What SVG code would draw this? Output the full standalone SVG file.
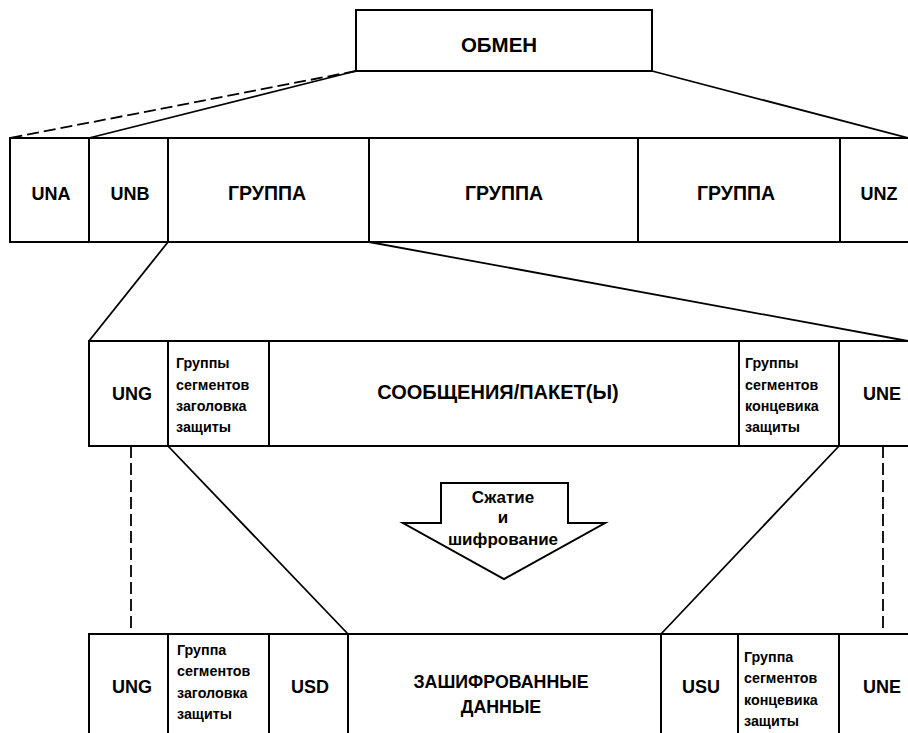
<svg xmlns="http://www.w3.org/2000/svg" width="908" height="733" viewBox="0 0 908 733">
<style>
.box{fill:#fff;stroke:#000;stroke-width:2}
.ln{fill:none;stroke:#000;stroke-width:1.8}
.dash{fill:none;stroke:#000;stroke-width:1.8;stroke-dasharray:12 5}
.t{font-family:"Liberation Sans",Arial,sans-serif;font-weight:bold;fill:#000;text-anchor:middle}
.big{font-size:18px}
.grp{font-size:19.5px}
.arr{font-size:17px}
.sm{font-family:"Liberation Sans",Arial,sans-serif;font-weight:bold;fill:#000;font-size:14.3px}
</style>
<rect width="908" height="733" fill="#fff"/>
<g id="connectors">
<line class="dash" x1="356" y1="71" x2="10" y2="138"/>
<line class="ln" x1="356" y1="71" x2="89" y2="138"/>
<line class="ln" x1="652" y1="71" x2="908" y2="138"/>
<line class="ln" x1="168" y1="242" x2="89" y2="341"/>
<line class="ln" x1="369" y1="242" x2="908" y2="341"/>
<line class="dash" x1="131" y1="446" x2="131" y2="634"/>
<line class="dash" x1="883" y1="446" x2="883" y2="634"/>
<line class="ln" x1="168" y1="446" x2="348" y2="634"/>
<line class="ln" x1="839" y1="446" x2="661" y2="634"/>
</g>
<g id="obmen"><rect class="box" x="356" y="10" width="296" height="61"/><text class="t" style="font-size:20.5px" x="499" y="52">ОБМЕН</text></g>
<g id="una"><rect class="box" x="10" y="138" width="79" height="104"/><text class="t big" x="51" y="199.5">UNA</text></g>
<g id="unb"><rect class="box" x="89" y="138" width="79" height="104"/><text class="t big" x="130" y="199.5">UNB</text></g>
<g id="group1"><rect class="box" x="168" y="138" width="201" height="104"/><text class="t grp" x="267" y="200">ГРУППА</text></g>
<g id="group2"><rect class="box" x="369" y="138" width="269" height="104"/><text class="t grp" x="504" y="200">ГРУППА</text></g>
<g id="group3"><rect class="box" x="638" y="138" width="202" height="104"/><text class="t grp" x="736" y="200">ГРУППА</text></g>
<g id="unz"><rect class="box" x="840" y="138" width="90" height="104"/><text class="t big" x="879" y="199.5">UNZ</text></g>
<g id="ung1"><rect class="box" x="89" y="341" width="79" height="105"/><text class="t big" x="132" y="400">UNG</text></g>
<g id="hdr1"><rect class="box" x="168" y="341" width="101" height="105"/><text class="sm" x="176" y="368">Группы</text><text class="sm" x="176" y="390">сегментов</text><text class="sm" x="176" y="411">заголовка</text><text class="sm" x="176" y="432">защиты</text></g>
<g id="messages"><rect class="box" x="269" y="341" width="470" height="105"/><text class="t" style="font-size:20px" x="498" y="399">СООБЩЕНИЯ/ПАКЕТ(Ы)</text></g>
<g id="trl1"><rect class="box" x="739" y="341" width="100" height="105"/><text class="sm" x="745" y="368">Группы</text><text class="sm" x="745" y="390">сегментов</text><text class="sm" x="745" y="411">концевика</text><text class="sm" x="745" y="432">защиты</text></g>
<g id="une1"><rect class="box" x="839" y="341" width="90" height="105"/><text class="t big" x="882" y="400">UNE</text></g>
<g id="arrow"><polygon class="box" points="441,483 568,483 568,523 605,523 504,579 403,523 441,523"/><text class="t arr" x="503" y="503">Сжатие</text><text class="t arr" x="503" y="523">и</text><text class="t arr" x="503" y="545">шифрование</text></g>
<g id="ung2"><rect class="box" x="89" y="634" width="79" height="120"/><text class="t big" x="132" y="693">UNG</text></g>
<g id="hdr2"><rect class="box" x="168" y="634" width="101" height="120"/><text class="sm" x="177" y="655">Группа</text><text class="sm" x="177" y="676">сегментов</text><text class="sm" x="177" y="698">заголовка</text><text class="sm" x="177" y="719">защиты</text></g>
<g id="usd"><rect class="box" x="269" y="634" width="79" height="120"/><text class="t big" x="310" y="693">USD</text></g>
<g id="encdata"><rect class="box" x="348" y="634" width="313" height="120"/><text class="t" style="font-size:17.8px" x="501" y="687.5">ЗАШИФРОВАННЫЕ</text><text class="t" style="font-size:17.8px" x="501" y="712.5">ДАННЫЕ</text></g>
<g id="usu"><rect class="box" x="661" y="634" width="77" height="120"/><text class="t big" x="701" y="693">USU</text></g>
<g id="trl2"><rect class="box" x="738" y="634" width="101" height="120"/><text class="sm" x="744" y="662">Группа</text><text class="sm" x="744" y="683">сегментов</text><text class="sm" x="744" y="705">концевика</text><text class="sm" x="744" y="726">защиты</text></g>
<g id="une2"><rect class="box" x="839" y="634" width="90" height="120"/><text class="t big" x="882" y="693">UNE</text></g>
</svg>
